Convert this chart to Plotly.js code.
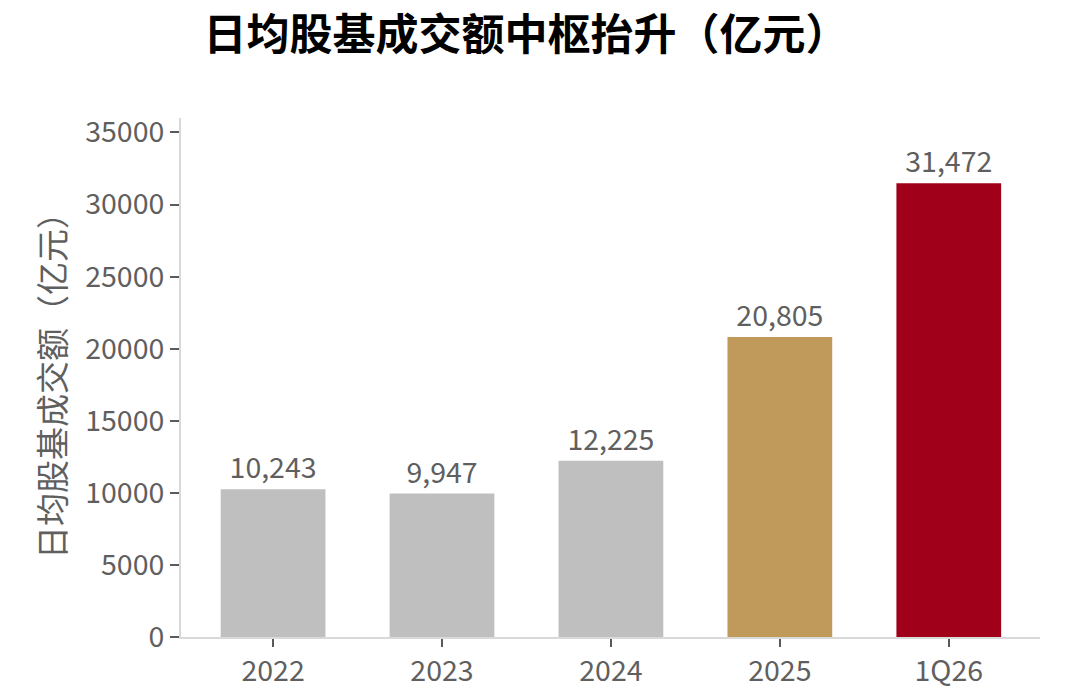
<!DOCTYPE html>
<html>
<head>
<meta charset="utf-8">
<script src="https://cdn.plot.ly/plotly-3.0.1.min.js"></script>
<style>
  html, body { margin: 0; padding: 0; background: #fff; }
  #chart { width: 1080px; height: 699px; }
</style>
</head>
<body>
<div id="chart"></div>
<script>
const categories = ["2022", "2023", "2024", "2025", "1Q26"];
const turnover = [10243, 9947, 12225, 20805, 31472];
const barLabels = ["10,243", "9,947", "12,225", "20,805", "31,472"];
const barColors = ["#bfbfbf", "#bfbfbf", "#bfbfbf", "#c09a5b", "#a0001a"];
const yTicks = [0, 5000, 10000, 15000, 20000, 25000, 30000, 35000];

const fontFamily = '"Noto Sans CJK SC", "Noto Sans", sans-serif';
const grayText = "#5f5f5f";

const trace = {
    x: categories,
    y: turnover,
    type: "bar",
    width: 0.62,
    marker: { color: barColors },
    text: barLabels,
    textposition: "outside",
    cliponaxis: false,
    textfont: { family: fontFamily, size: 28.5, color: grayText },
    hoverinfo: "x+y"
};

const layout = {
    width: 1080,
    height: 699,
    margin: { l: 181, r: 40, t: 118, b: 62 },
    paper_bgcolor: "#ffffff",
    plot_bgcolor: "#ffffff",
    showlegend: false,
    font: { family: fontFamily, color: grayText },
    title: {
        text: "<b>日均股基成交额中枢抬升（亿元）</b>",
        font: { family: fontFamily, size: 43, color: "#000000" },
        x: 0.487,
        xanchor: "center",
        y: 0.95,
        yanchor: "middle"
    },
    xaxis: {
        type: "category",
        range: [-0.545, 4.54],
        showline: true,
        linecolor: "#d9d9d9",
        linewidth: 2,
        showgrid: false,
        zeroline: false,
        ticks: "outside",
        ticklen: 8,
        tickcolor: "#595959",
        tickwidth: 2,
        tickfont: { family: fontFamily, size: 28.5, color: grayText }
    },
    yaxis: {
        range: [0, 36000],
        tickvals: yTicks,
        ticktext: yTicks.map(String),
        showline: true,
        linecolor: "#d9d9d9",
        linewidth: 2,
        showgrid: false,
        zeroline: false,
        ticks: "outside",
        ticklen: 9,
        tickcolor: "#595959",
        tickwidth: 2,
        tickfont: { family: fontFamily, size: 28.5, color: grayText },
        title: {
            text: "日均股基成交额（亿元）",
            font: { family: fontFamily, size: 33, color: grayText },
            standoff: 10
        }
    }
};

Plotly.newPlot("chart", [trace], layout, { displayModeBar: false, staticPlot: true });
</script>
</body>
</html>
